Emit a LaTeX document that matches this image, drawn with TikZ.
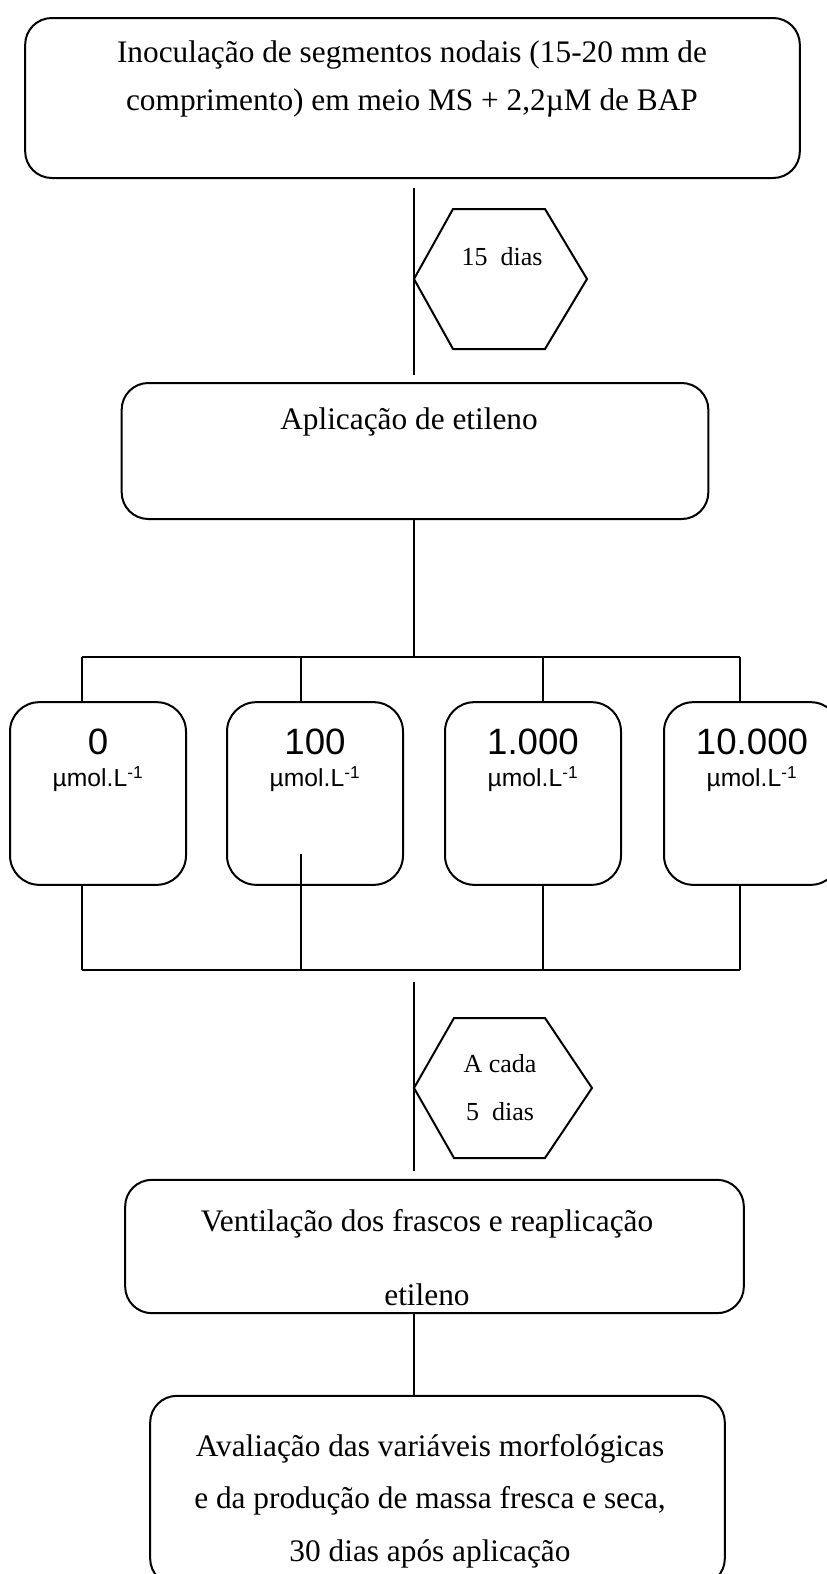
\documentclass[tikz,border=0pt]{standalone}
\usepackage{fontspec}
\setmainfont{Liberation Serif}
\setsansfont{Liberation Sans}
\begin{document}
\begin{tikzpicture}[x=0.75pt,y=-0.75pt,
  line width=1.5pt,
  box/.style={draw,rounded corners=20pt,inner sep=0pt},
  conbox/.style={draw,rounded corners=22pt,inner sep=0pt,minimum width=132pt,minimum height=137pt},
  conn/.style={line width=1.5pt},
  txt/.style={font=\fontsize{23.5}{36}\selectfont,align=center,inner sep=0pt},
  hextxt/.style={font=\fontsize{19.5}{36}\selectfont,align=center,inner sep=0pt},
  num/.style={font=\sffamily\fontsize{27.5}{30}\selectfont,inner sep=0pt},
  unit/.style={font=\sffamily\fontsize{18.5}{20}\selectfont,inner sep=0pt}]
\useasboundingbox (0,0) rectangle (827,1574);

% spine of the flow
\coordinate (spine) at (414,0);

% first step
\node[box,minimum width=581pt,minimum height=120pt] (top) at (412.5,98) {};
\node[txt] (toptxt) at (412,79) {Inoculação de segmentos nodais (15-20 mm de\\comprimento) em meio MS + 2,2µM de BAP};

% 15 days
\coordinate (h1) at (414,279);
\draw[conn] (h1) -- ++(39,-70) coordinate (h1a) -- ++(92,0) coordinate (h1b) -- ++(42,70) coordinate (h1c)
  -- ++(-42,70) coordinate (h1d) -- ++(-92,0) coordinate (h1e) -- cycle;
\node[hextxt] (h1txt) at (502,257) {15~ dias};

% ethylene application
\node[box,minimum width=440pt,minimum height=102pt] (app) at (415,451) {};
\node[txt] (apptxt) at (409,422) {Aplicação de etileno};

\draw[conn] ([yshift=-7pt]top.south -| spine) -- ([yshift=5pt]app.north -| spine);

% distribution rail
\coordinate (r1) at (82,657);
\coordinate (r2) at (301,657);
\coordinate (r3) at (543,657);
\coordinate (r4) at (740,657);
\draw[conn] (app.south -| spine) -- (spine |- r1);
\draw[conn] (r1) -- (r4);

% concentrations
\node[conbox] (c1) at (98,793.5) {};
\node[conbox] (c2) at (315,793.5) {};
\node[conbox] (c3) at (533,793.5) {};
\node[conbox] (c4) at (752,793.5) {};
\foreach \c/\v in {c1/0,c2/100,c3/1.000,c4/10.000}{
  \node[num] (\c n) at ([yshift=39pt]\c.center) {\v};
  \node[unit] (\c u) at ([yshift=11pt]\c.center) {µmol.L\textsuperscript{-1}};
}
\draw[conn] (r1) -- (r1 |- c1.north);
\draw[conn] (r2) -- (r2 |- c2.north);
\draw[conn] (r3) -- (r3 |- c3.north);
\draw[conn] (r4) -- (r4 |- c4.north);

% collecting rail
\coordinate (s1) at (82,970);
\coordinate (s2) at (301,970);
\coordinate (s3) at (543,970);
\coordinate (s4) at (740,970);
\draw[conn] (s1 |- c1.south) -- (s1);
\draw[conn] ([yshift=24pt]s2 |- c2.south) -- (s2);
\draw[conn] (s3 |- c3.south) -- (s3);
\draw[conn] (s4 |- c4.south) -- (s4);
\draw[conn] (s1) -- (s4);

% every 5 days
\coordinate (h2) at (414,1088);
\draw[conn] (h2) -- ++(40,-70) coordinate (h2a) -- ++(91,0) coordinate (h2b) -- ++(47,70) coordinate (h2c)
  -- ++(-47,70) coordinate (h2d) -- ++(-91,0) coordinate (h2e) -- cycle;
\node[hextxt] (h2txt) at (500,1088) {A cada\\5~ dias};

% ventilation
\node[box,minimum width=464pt,minimum height=100pt] (vent) at (434.5,1246.5) {};
\node[txt,font=\fontsize{23.5}{56}\selectfont] (venttxt) at (427,1257.5) {Ventilação dos frascos e reaplicação\\etileno};

\draw[conn] ([yshift=-9pt]s1 -| spine) -- ([yshift=6pt]vent.north -| spine);

% evaluation
\node[box,minimum width=431pt,minimum height=142pt] (eval) at (437.5,1490.5) {};
\node[txt,font=\fontsize{23.5}{39.4}\selectfont] (evaltxt) at (430,1501) {Avaliação das variáveis morfológicas\\e da produção de massa fresca e seca,\\30 dias após aplicação};

\draw[conn] (vent.south -| spine) -- (eval.north -| spine);
\end{tikzpicture}
\end{document}
